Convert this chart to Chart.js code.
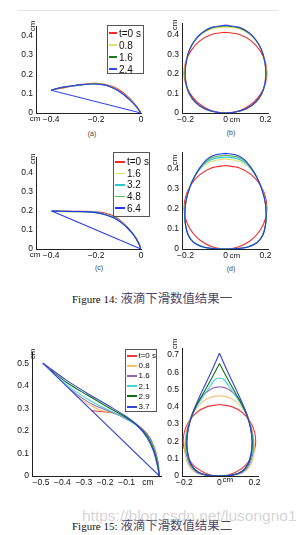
<!DOCTYPE html>
<html>
<head>
<meta charset="utf-8">
<script src="https://cdn.jsdelivr.net/npm/chart.js@4.4.1/dist/chart.umd.min.js"></script>
<style>
  body { margin: 0; width: 307px; height: 535px; background: #fff; position: relative; overflow: hidden;
         font-family: 'Liberation Sans', Arial, sans-serif; }
  canvas { position: absolute; }
  .rule { position: absolute; left: 18px; top: 10px; width: 260px; height: 1px; background: #e4e4e4; }
  .legend { position: absolute; background: #fff; border: 1px solid #555; box-sizing: border-box; color: #111; }
  .legend .row { display: flex; align-items: center; white-space: nowrap; }
  .legend .swatch { display: inline-block; }
  .sub { position: absolute; transform: translate(-50%, -50%); font-size: 7px; color: #444; }
  .cap { position: absolute; left: 72px; height: 14px; line-height: 14px; white-space: nowrap; }
  .cap .en { font-family: 'Liberation Serif', 'DejaVu Serif', serif; font-size: 11px; color: #111; }
  .cap .zh { font-family: 'Noto Sans CJK SC', sans-serif; font-size: 12.4px; color: #4e4666; margin-left: 3px; }
  .mark { position: absolute; left: 82px; top: 507px; font-size: 15.5px; color: rgba(175,175,175,0.55); white-space: nowrap; }
</style>
</head>
<body>
<div class="rule"></div>
<div class="sub" style="left:92px;top:133px">(a)</div>
<div class="sub" style="left:231px;top:132px">(b)</div>
<div class="sub" style="left:99px;top:267px">(c)</div>
<div class="sub" style="left:231px;top:268px">(d)</div>
<div class="cap" style="top:291px"><span class="en">Figure 14:</span><span class="zh">液滴下滑数值结果一</span></div>
<div class="cap" style="top:518px"><span class="en">Figure 15:</span><span class="zh">液滴下滑数值结果二</span></div>

<script>
// ---- legends / times ----
const legendA = ['t=0 s', '0.8', '1.6', '2.4'];
const legendC = ['t=0 s', '1.6', '3.2', '4.8', '6.4'];
const legendE = ['t=0 s', '0.8', '1.6', '2.1', '2.9', '3.7'];

const coloursA = ['#f22a2a', '#e2df72', '#1f7a22', '#3446f2'];
const coloursC = ['#f22a2a', '#dcdc6e', '#2ec4c8', '#5cba5c', '#2234ee'];
const coloursE = ['#ee3c3c', '#f0c474', '#9466b4', '#3fd6d6', '#116e14', '#3444d2'];

// ---- tick values ----
const xTicksSide = [-0.4, -0.2, 0];
const xTicksFront = [-0.2, 0, 0.2];
const xTicksE = [-0.5, -0.4, -0.3, -0.2, -0.1, 0];
const yTicks14 = [0, 0.1, 0.2, 0.3, 0.4];
const yTicksE = [0, 0.1, 0.2, 0.3, 0.4, 0.5];
const yTicksF = [0, 0.1, 0.2, 0.3, 0.4, 0.5, 0.6, 0.7];

// ---- front view at t = 0 (same start shape in every run) ----
const frontT0 = [[0,0.413],[0.07,0.401],[0.13,0.367],[0.175,0.315],[0.2,0.257],[0.207,0.2],[0.2,0.152],[0.18,0.104],[0.145,0.059],[0.1,0.026],[0.05,0.006],[0,0],
  [-0.05,0.006],[-0.1,0.026],[-0.145,0.059],[-0.18,0.104],[-0.2,0.152],[-0.207,0.2],[-0.2,0.257],[-0.175,0.315],[-0.13,0.367],[-0.07,0.401],[0,0.413]];

// ---- (a) side view ----
const planeA = [[0,0],[-0.40,0.118]];
const sideA_t0 = [[-0.40,0.118],[-0.36,0.127],[-0.31,0.138],[-0.26,0.148],[-0.21,0.154],[-0.16,0.149],[-0.12,0.134],[-0.085,0.11],[-0.05,0.075],[-0.022,0.038],[-0.006,0.011],[0,0]];
const sideA_08 = [[-0.40,0.118],[-0.36,0.129],[-0.31,0.139],[-0.26,0.147],[-0.21,0.152],[-0.16,0.146],[-0.12,0.13],[-0.085,0.105],[-0.05,0.071],[-0.022,0.036],[-0.006,0.01],[0,0]];
const sideA_16 = [[-0.40,0.118],[-0.36,0.13],[-0.31,0.14],[-0.26,0.147],[-0.21,0.151],[-0.16,0.145],[-0.12,0.128],[-0.085,0.103],[-0.05,0.069],[-0.022,0.035],[-0.006,0.01],[0,0]];
const sideA_24 = [[-0.40,0.118],[-0.36,0.131],[-0.31,0.14],[-0.26,0.147],[-0.21,0.15],[-0.16,0.144],[-0.12,0.127],[-0.085,0.102],[-0.05,0.068],[-0.022,0.034],[-0.006,0.01],[0,0]];

// ---- (b) front view ----
const frontB_08 = [[0,0.44],[0.07,0.43],[0.118,0.404],[0.155,0.367],[0.182,0.32],[0.198,0.265],[0.204,0.21],[0.199,0.152],[0.183,0.1],[0.152,0.055],[0.105,0.021],[0.05,0.005],[0,0],
  [-0.05,0.005],[-0.105,0.021],[-0.152,0.055],[-0.183,0.1],[-0.199,0.152],[-0.204,0.21],[-0.198,0.265],[-0.182,0.32],[-0.155,0.367],[-0.118,0.404],[-0.07,0.43],[0,0.44]];
const frontB_16 = [[0,0.446],[0.07,0.435],[0.118,0.408],[0.154,0.37],[0.18,0.323],[0.196,0.267],[0.202,0.21],[0.198,0.152],[0.182,0.1],[0.152,0.056],[0.105,0.022],[0.05,0.005],[0,0],
  [-0.05,0.005],[-0.105,0.022],[-0.152,0.056],[-0.182,0.1],[-0.198,0.152],[-0.202,0.21],[-0.196,0.267],[-0.18,0.323],[-0.154,0.37],[-0.118,0.408],[-0.07,0.435],[0,0.446]];
const frontB_24 = [[0,0.449],[0.07,0.438],[0.118,0.41],[0.153,0.372],[0.179,0.325],[0.195,0.268],[0.201,0.21],[0.197,0.152],[0.181,0.1],[0.151,0.057],[0.105,0.023],[0.05,0.005],[0,0],
  [-0.05,0.005],[-0.105,0.023],[-0.151,0.057],[-0.181,0.1],[-0.197,0.152],[-0.201,0.21],[-0.195,0.268],[-0.179,0.325],[-0.153,0.372],[-0.118,0.41],[-0.07,0.438],[0,0.449]];

// ---- (c) side view ----
const planeC = [[0,0],[-0.397,0.198]];
const sideC_t0 = [[-0.397,0.198],[-0.33,0.197],[-0.27,0.197],[-0.22,0.196],[-0.17,0.19],[-0.13,0.176],[-0.095,0.152],[-0.065,0.12],[-0.04,0.085],[-0.018,0.045],[-0.005,0.015],[0,0]];
const sideC_16 = [[-0.397,0.198],[-0.35,0.194],[-0.3,0.193],[-0.25,0.194],[-0.2,0.191],[-0.16,0.181],[-0.12,0.164],[-0.085,0.138],[-0.055,0.106],[-0.03,0.071],[-0.012,0.036],[0,0]];
const sideC_32 = [[-0.397,0.198],[-0.35,0.196],[-0.3,0.195],[-0.25,0.195],[-0.2,0.191],[-0.16,0.181],[-0.12,0.164],[-0.085,0.137],[-0.055,0.105],[-0.03,0.071],[-0.012,0.036],[0,0]];
const sideC_48 = [[-0.397,0.198],[-0.35,0.197],[-0.3,0.196],[-0.25,0.195],[-0.2,0.19],[-0.16,0.18],[-0.12,0.163],[-0.085,0.136],[-0.055,0.104],[-0.03,0.07],[-0.012,0.035],[0,0]];
const sideC_64 = [[-0.397,0.198],[-0.35,0.197],[-0.3,0.196],[-0.25,0.195],[-0.2,0.19],[-0.16,0.179],[-0.12,0.162],[-0.085,0.135],[-0.055,0.103],[-0.03,0.069],[-0.012,0.034],[0,0]];

// ---- (d) front view ----
const frontD_16 = [[0,0.445],[0.06,0.437],[0.105,0.415],[0.14,0.38],[0.167,0.335],[0.188,0.282],[0.201,0.223],[0.204,0.165],[0.198,0.11],[0.183,0.066],[0.155,0.031],[0.11,0.01],[0.055,0.002],[0,0],
  [-0.055,0.002],[-0.11,0.01],[-0.155,0.031],[-0.183,0.066],[-0.198,0.11],[-0.204,0.165],[-0.201,0.223],[-0.188,0.282],[-0.167,0.335],[-0.14,0.38],[-0.105,0.415],[-0.06,0.437],[0,0.445]];
const frontD_32 = [[0,0.455],[0.055,0.448],[0.098,0.428],[0.134,0.39],[0.162,0.345],[0.184,0.29],[0.199,0.231],[0.204,0.17],[0.199,0.114],[0.185,0.068],[0.157,0.032],[0.112,0.01],[0.057,0.002],[0,0],
  [-0.057,0.002],[-0.112,0.01],[-0.157,0.032],[-0.185,0.068],[-0.199,0.114],[-0.204,0.17],[-0.199,0.231],[-0.184,0.29],[-0.162,0.345],[-0.134,0.39],[-0.098,0.428],[-0.055,0.448],[0,0.455]];
const frontD_48 = [[0,0.464],[0.052,0.457],[0.094,0.437],[0.13,0.397],[0.159,0.35],[0.182,0.295],[0.198,0.236],[0.203,0.175],[0.2,0.117],[0.186,0.069],[0.158,0.032],[0.113,0.01],[0.058,0.002],[0,0],
  [-0.058,0.002],[-0.113,0.01],[-0.158,0.032],[-0.186,0.069],[-0.2,0.117],[-0.203,0.175],[-0.198,0.236],[-0.182,0.295],[-0.159,0.35],[-0.13,0.397],[-0.094,0.437],[-0.052,0.457],[0,0.464]];
const frontD_64 = [[0,0.473],[0.05,0.466],[0.09,0.446],[0.127,0.404],[0.157,0.354],[0.18,0.3],[0.197,0.24],[0.203,0.18],[0.2,0.12],[0.188,0.071],[0.16,0.033],[0.115,0.011],[0.06,0.002],[0,0],
  [-0.06,0.002],[-0.115,0.011],[-0.16,0.033],[-0.188,0.071],[-0.2,0.12],[-0.203,0.18],[-0.197,0.24],[-0.18,0.3],[-0.157,0.354],[-0.127,0.404],[-0.09,0.446],[-0.05,0.466],[0,0.473]];

// ---- (e) side view, Figure 15 ----
const planeE = [[0.053,0],[-0.492,0.501]];
const sideE_t0 = [[-0.263,0.29],[-0.21,0.285],[-0.162,0.279],[-0.1,0.252],[-0.053,0.227],[-0.006,0.19],[0.025,0.138],[0.043,0.071],[0.053,0]];
const sideE_08 = [[-0.33,0.353],[-0.287,0.323],[-0.224,0.293],[-0.162,0.281],[-0.1,0.258],[-0.045,0.224],[0.001,0.182],[0.03,0.13],[0.047,0.064],[0.053,0]];
const sideE_16 = [[-0.372,0.391],[-0.318,0.352],[-0.256,0.316],[-0.178,0.286],[-0.107,0.259],[-0.05,0.227],[0,0.18],[0.028,0.127],[0.047,0.06],[0.053,0]];
const sideE_21 = [[-0.419,0.434],[-0.349,0.382],[-0.271,0.335],[-0.193,0.296],[-0.115,0.261],[-0.055,0.225],[-0.003,0.178],[0.027,0.121],[0.045,0.056],[0.053,0]];
const sideE_29 = [[-0.458,0.471],[-0.38,0.415],[-0.286,0.36],[-0.193,0.308],[-0.115,0.267],[-0.05,0.224],[-0.003,0.175],[0.027,0.116],[0.045,0.05],[0.053,0]];
const sideE_37 = [[-0.492,0.501],[-0.38,0.424],[-0.279,0.364],[-0.178,0.308],[-0.107,0.267],[-0.05,0.224],[-0.006,0.172],[0.025,0.112],[0.043,0.049],[0.053,0]];

// ---- (f) front view, Figure 15 ----
const frontF_08 = [[0,0.464],[0.05,0.455],[0.095,0.43],[0.133,0.39],[0.162,0.34],[0.183,0.28],[0.196,0.215],[0.198,0.15],[0.19,0.095],[0.17,0.05],[0.13,0.017],[0.07,0.003],[0,0],
  [-0.07,0.003],[-0.13,0.017],[-0.17,0.05],[-0.19,0.095],[-0.198,0.15],[-0.196,0.215],[-0.183,0.28],[-0.162,0.34],[-0.133,0.39],[-0.095,0.43],[-0.05,0.455],[0,0.464]];
const frontF_16 = [[0,0.516],[0.04,0.508],[0.08,0.48],[0.115,0.44],[0.145,0.385],[0.168,0.325],[0.185,0.26],[0.193,0.19],[0.188,0.123],[0.17,0.065],[0.133,0.023],[0.075,0.005],[0,0],
  [-0.075,0.005],[-0.133,0.023],[-0.17,0.065],[-0.188,0.123],[-0.193,0.19],[-0.185,0.26],[-0.168,0.325],[-0.145,0.385],[-0.115,0.44],[-0.08,0.48],[-0.04,0.508],[0,0.516]];
const frontF_21 = [[0,0.567],[0.025,0.558],[0.06,0.51],[0.1,0.45],[0.135,0.395],[0.162,0.335],[0.182,0.265],[0.19,0.195],[0.185,0.125],[0.167,0.067],[0.13,0.024],[0.073,0.005],[0,0],
  [-0.073,0.005],[-0.13,0.024],[-0.167,0.067],[-0.185,0.125],[-0.19,0.195],[-0.182,0.265],[-0.162,0.335],[-0.135,0.395],[-0.1,0.45],[-0.06,0.51],[-0.025,0.558],[0,0.567]];
const frontF_29 = [[0,0.65],[0.042,0.57],[0.08,0.5],[0.13,0.41],[0.158,0.345],[0.178,0.275],[0.187,0.2],[0.182,0.13],[0.165,0.07],[0.128,0.026],[0.072,0.005],[0,0],
  [-0.072,0.005],[-0.128,0.026],[-0.165,0.07],[-0.182,0.13],[-0.187,0.2],[-0.178,0.275],[-0.158,0.345],[-0.13,0.41],[-0.08,0.5],[-0.042,0.57],[0,0.65]];
const frontF_37 = [[0,0.71],[0.048,0.6],[0.095,0.5],[0.135,0.41],[0.16,0.345],[0.178,0.275],[0.186,0.2],[0.18,0.13],[0.162,0.07],[0.125,0.025],[0.07,0.005],[0,0],
  [-0.07,0.005],[-0.125,0.025],[-0.162,0.07],[-0.18,0.13],[-0.186,0.2],[-0.178,0.275],[-0.16,0.345],[-0.135,0.41],[-0.095,0.5],[-0.048,0.6],[0,0.71]];

// ---- layout helpers ----
const YW = 24, XH = 16, PT = 10, PR = 8;
const tickFont = { family: "'Liberation Sans', Arial, sans-serif", size: 8.5 };

function fmt(v) {
  if (Math.abs(v) < 1e-9) return '0';
  return (v < 0 ? '\u2212' : '') + Math.abs(v).toFixed(1);
}

// "cm" unit text next to the axes
const unitText = {
  id: 'unitText',
  afterDraw(chart, args, opts) {
    if (!opts || !opts.y) return;
    const { ctx, chartArea: a, scales } = chart;
    ctx.save();
    ctx.fillStyle = '#111';
    ctx.font = "8px 'Liberation Sans', Arial, sans-serif";
    ctx.save();
    ctx.translate(a.left + opts.y[0], a.top + opts.y[1]);
    ctx.rotate(-Math.PI / 2);
    ctx.textAlign = 'center';
    ctx.textBaseline = 'bottom';
    ctx.fillText('cm', 0, 0);
    ctx.restore();
    if (opts.x === 'left') {
      ctx.textAlign = 'center';
      ctx.textBaseline = 'middle';
      ctx.fillText('cm', a.left - 1, a.bottom + 5.5);
    } else if (opts.x) {
      ctx.textAlign = 'left';
      ctx.textBaseline = 'middle';
      ctx.fillText('cm', scales.x.getPixelForValue(0) + opts.x[0], a.bottom + opts.x[1]);
    }
    ctx.restore();
  }
};
Chart.register(unitText);

function drawPanel(p) {
  const W = YW + (p.box.r - p.box.l) + PR;
  const H = PT + (p.box.b - p.box.t) + XH;
  const canvas = document.createElement('canvas');
  canvas.width = W;
  canvas.height = H;
  canvas.style.left = (p.box.l - YW) + 'px';
  canvas.style.top = (p.box.t - PT) + 'px';
  canvas.style.width = W + 'px';
  canvas.style.height = H + 'px';
  document.body.appendChild(canvas);

  const n = p.curves.length;
  const datasets = p.curves.map((pts, i) => ({
    label: p.labels[i],
    data: pts.map(([x, y]) => ({ x, y })),
    borderColor: p.colours[i],
    borderWidth: 1.1,
    showLine: true,
    pointRadius: 0,
    tension: 0.3,
    order: n - i
  }));
  if (p.plane) {
    datasets.push({
      label: 'plane',
      data: p.plane.map(([x, y]) => ({ x, y })),
      borderColor: p.colours[n - 1],
      borderWidth: 1.1,
      showLine: true,
      pointRadius: 0,
      tension: 0,
      order: 0
    });
  }

  new Chart(canvas, {
    type: 'scatter',
    data: { datasets },
    options: {
      responsive: false,
      devicePixelRatio: 1,
      animation: false,
      events: [],
      layout: { padding: { top: PT, right: PR, bottom: 0, left: 0 } },
      plugins: { legend: { display: false }, tooltip: { enabled: false }, unitText: p.unit },
      scales: {
        x: {
          type: 'linear', position: 'bottom', min: p.x[0], max: p.x[1],
          afterFit: s => { s.height = XH; },
          afterBuildTicks: s => { s.ticks = p.xTicks.map(value => ({ value })); },
          grid: { display: false, drawTicks: false },
          border: { display: true, color: '#222', width: 1 },
          ticks: { autoSkip: false, maxRotation: 0, padding: 2, color: '#111', font: tickFont, callback: p.xFmt || fmt }
        },
        y: {
          type: 'linear', position: 'left', min: p.y[0], max: p.y[1],
          afterFit: s => { s.width = YW; },
          afterBuildTicks: s => { s.ticks = p.yTicks.map(value => ({ value })); },
          grid: { display: false, drawTicks: false },
          border: { display: true, color: '#222', width: 1 },
          ticks: { autoSkip: false, padding: 3, color: '#111', font: tickFont, callback: fmt }
        }
      }
    }
  });
}

function drawLegend(pos, labels, colours, style) {
  const box = document.createElement('div');
  box.className = 'legend';
  Object.assign(box.style, {
    left: pos.l + 'px', top: pos.t + 'px', width: pos.w + 'px', height: pos.h + 'px',
    paddingTop: style.pad + 'px', fontSize: style.font + 'px'
  });
  labels.forEach((lab, i) => {
    const row = document.createElement('div');
    row.className = 'row';
    row.style.height = style.row + 'px';
    const sw = document.createElement('span');
    sw.className = 'swatch';
    Object.assign(sw.style, {
      width: style.sw + 'px', height: style.lw + 'px', background: colours[i],
      marginLeft: style.ml + 'px', marginRight: style.gap + 'px'
    });
    const tx = document.createElement('span');
    tx.textContent = lab;
    row.appendChild(sw);
    row.appendChild(tx);
    box.appendChild(row);
  });
  document.body.appendChild(box);
}

// (a)
drawPanel({ box: { l: 36, r: 141, t: 26, b: 113 }, x: [-0.467, 0], y: [0, 0.45],
  xTicks: xTicksSide, yTicks: yTicks14, labels: legendA, colours: coloursA,
  curves: [sideA_t0, sideA_08, sideA_16, sideA_24], plane: planeA, unit: { y: [1, 0], x: 'left' } });
// (b)
drawPanel({ box: { l: 182, r: 268, t: 23, b: 113 }, x: [-0.2175, 0.2125], y: [0, 0.46],
  xTicks: xTicksFront, yTicks: yTicks14, labels: legendA, colours: coloursA,
  curves: [frontT0, frontB_08, frontB_16, frontB_24], unit: { y: [-3.5, 2], x: [4, 6.5] } });
// (c)
drawPanel({ box: { l: 36, r: 141, t: 157, b: 249 }, x: [-0.467, 0], y: [0, 0.48],
  xTicks: xTicksSide, yTicks: yTicks14, labels: legendC, colours: coloursC,
  curves: [sideC_t0, sideC_16, sideC_32, sideC_48, sideC_64], plane: planeC, unit: { y: [1, 2], x: 'left' } });
// (d)
drawPanel({ box: { l: 182, r: 268, t: 152, b: 249 }, x: [-0.2175, 0.2125], y: [0, 0.48],
  xTicks: xTicksFront, yTicks: yTicks14, labels: legendC, colours: coloursC,
  curves: [frontT0, frontD_16, frontD_32, frontD_48, frontD_64], unit: { y: [-3.5, 8], x: [4, 6.5] } });
// (e)
drawPanel({ box: { l: 32, r: 161, t: 352, b: 476 }, x: [-0.542, 0.0607], y: [0, 0.55],
  xTicks: xTicksE, yTicks: yTicksE, labels: legendE, colours: coloursE,
  curves: [sideE_t0, sideE_08, sideE_16, sideE_21, sideE_29, sideE_37], plane: planeE,
  xFmt: v => (Math.abs(v) < 1e-9 ? 'cm' : fmt(v)), unit: { y: [5, 2] } });
// (f)
drawPanel({ box: { l: 182, r: 258, t: 348, b: 476 }, x: [-0.214, 0.22], y: [0, 0.74],
  xTicks: xTicksFront, yTicks: yTicksF, labels: legendE, colours: coloursE,
  curves: [frontT0, frontF_08, frontF_16, frontF_21, frontF_29, frontF_37], unit: { y: [-3, -4], x: [3, 4] } });

drawLegend({ l: 107, t: 25, w: 37, h: 49 }, legendA, coloursA, { pad: 1, font: 10, row: 12, sw: 8, lw: 1.5, ml: 1, gap: 2 });
drawLegend({ l: 113, t: 152, w: 37, h: 65 }, legendC, coloursC, { pad: 3, font: 10, row: 11.6, sw: 10, lw: 1.5, ml: 1, gap: 2 });
drawLegend({ l: 125, t: 349, w: 32, h: 63 }, legendE, coloursE, { pad: 0.5, font: 8, row: 10.2, sw: 10, lw: 2, ml: 1, gap: 1.5 });
</script>
<div class="mark">https://blog.csdn.net/lusongno1</div>
</body>
</html>
